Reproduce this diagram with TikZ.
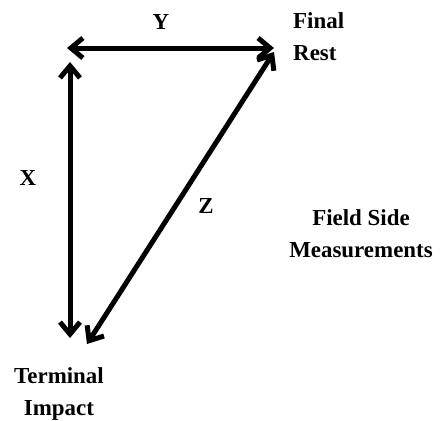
\documentclass[tikz,border=0pt]{standalone}
\usepackage{fontspec}
\setmainfont{Liberation Serif}
\usetikzlibrary{arrows.meta,positioning}

\begin{document}
\begin{tikzpicture}[
  x=1bp, y=-1bp,
  lbl/.style={font=\bfseries\fontsize{23}{32}\selectfont, align=center, inner sep=0pt, anchor=base},
  arrow/.style={{Straight Barb[length=12bp,width=20bp]}-{Straight Barb[length=12bp,width=20bp]}, line width=5bp, draw=black}
]
\useasboundingbox (0,0) rectangle (445,420);
% end points
\coordinate (ytl) at (67,48);
\coordinate (ytr) at (274,48);
\coordinate (xtop) at (70,62);
\coordinate (xbot) at (70,338);
\coordinate (ztop) at (274,52);
\coordinate (zbot) at (87,344);
% arrows
\draw[arrow] (ytl) -- (ytr);
\draw[arrow] (xtop) -- (xbot);
\draw[arrow] (zbot) -- (ztop);
% labels (base = last line)
\node[lbl] (y) at (161,29) {Y};
\node[lbl] (x) at (28,185) {X};
\node[lbl] (z) at (206,213) {Z};
\node[lbl, align=left, anchor=base west] (rest) at (293,60) {Final\\Rest};
\node[lbl] (impact) at (59,415) {Terminal\\Impact};
\node[lbl] (field) at (361,257) {Field Side\\Measurements};
\end{tikzpicture}
\end{document}
